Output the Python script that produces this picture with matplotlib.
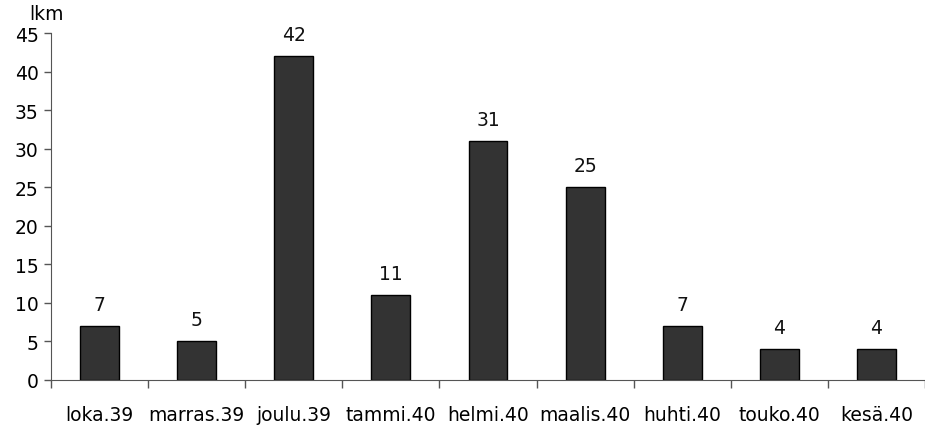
import numpy as np
import matplotlib.pyplot as plt

# data
months = ['loka.39', 'marras.39', 'joulu.39', 'tammi.40', 'helmi.40',
          'maalis.40', 'huhti.40', 'touko.40', 'kesä.40']
counts = [7, 5, 42, 11, 31, 25, 7, 4, 4]

plt.rcParams['font.family'] = ['DejaVu Sans']

fig = plt.figure(figsize=(9.25, 4.27), dpi=100)
ax = fig.add_axes([51/925, 46/427, 874/925, 347/427])

x = np.arange(len(months))
ax.bar(x, counts, width=0.4, color='#333333', edgecolor='black', linewidth=1)
for xi, v in zip(x, counts):
    ax.text(xi, v + 1.6, str(v), ha='center', va='bottom', fontsize=13.5, color='#111111')

ax.set_xlim(-0.5, -0.5 + 874/98.25)
ax.set_ylim(0, 45)
ax.set_yticks(np.arange(0, 46, 5))
ax.set_xticks(x)
ax.set_xticklabels(months, fontsize=13.5)
ax.set_xticks(np.arange(-0.5, len(months), 1), minor=True)
ax.tick_params(axis='x', which='major', length=0, pad=18)
ax.tick_params(axis='x', which='minor', length=6, width=1, color='#555555')
ax.tick_params(axis='y', length=5, width=1, labelsize=13.5, color='#555555', pad=4)
for s in ['top', 'right']:
    ax.spines[s].set_visible(False)
for s in ['left', 'bottom']:
    ax.spines[s].set_color('#555555')
ax.text(-0.025, 1.03, 'lkm', transform=ax.transAxes, fontsize=13.5, ha='left', va='bottom')

fig.savefig('out.png', dpi=100)
